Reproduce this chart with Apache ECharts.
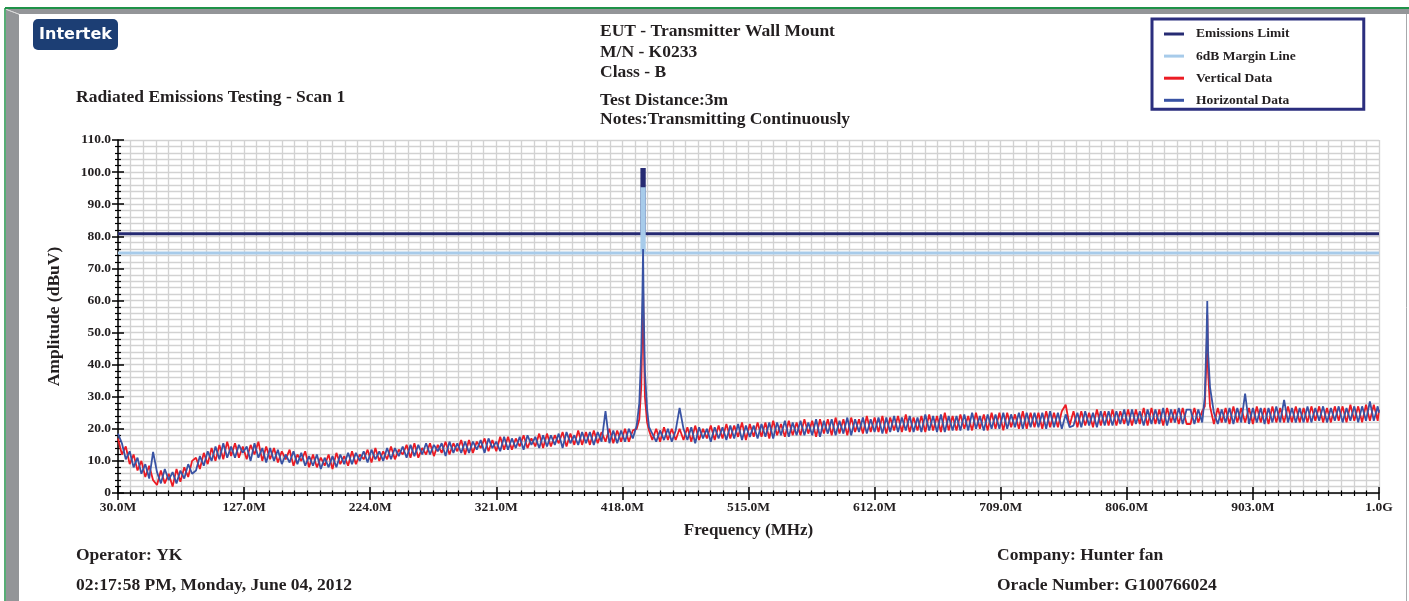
<!DOCTYPE html>
<html>
<head>
<meta charset="utf-8">
<script src="https://cdn.jsdelivr.net/npm/echarts@6/dist/echarts.min.js"></script>
<style>
  html, body { margin: 0; padding: 0; background: #ffffff; }
  #chart { width: 1409px; height: 601px; }
</style>
</head>
<body>
<div id="chart"></div>
<script>
// ---------------- DATA ----------------
const FREQ_START = 30;
const FREQ_STOP = 1000;
const FREQ_STEP_LABEL = 97;

const FREQ = [
  30,33,36,39,42,45,48,51,54,57,
  60,63,66,69,72,75,78,81,84,87,
  90,93,96,99,102,105,108,111,114,117,
  120,123,126,129,132,135,138,141,144,147,
  150,153,156,159,162,165,168,171,174,177,
  180,183,186,189,192,195,198,201,204,207,
  210,213,216,219,222,225,228,231,234,237,
  240,243,246,249,252,255,258,261,264,267,
  270,273,276,279,282,285,288,291,294,297,
  300,303,306,309,312,315,318,321,324,327,
  330,333,336,339,342,345,348,351,354,357,
  360,363,366,369,372,375,378,381,384,387,
  390,393,396,399,402,405,408,411,414,417,
  420,423,426,429,431,432.5,433.4,433.9,434.4,435.3,
  437,438.5,441,444,447,450,453,456,459,462,
  465,468,471,474,477,480,483,486,489,492,
  495,498,501,504,507,510,513,516,519,522,
  525,528,531,534,537,540,543,546,549,552,
  555,558,561,564,567,570,573,576,579,582,
  585,588,591,594,597,600,603,606,609,612,
  615,618,621,624,627,630,633,636,639,642,
  645,648,651,654,657,660,663,666,669,672,
  675,678,681,684,687,690,693,696,699,702,
  705,708,711,714,717,720,723,726,729,732,
  735,738,741,744,747,750,753,756,759,762,
  765,768,771,774,777,780,783,786,789,792,
  795,798,801,804,807,810,813,816,819,822,
  825,828,831,834,837,840,843,846,849,852,
  855,858,861,864,866,867.3,867.9,868.5,870,873,
  876,879,882,885,888,891,894,897,900,903,
  906,909,912,915,918,921,924,927,930,933,
  936,939,942,945,948,951,954,957,960,963,
  966,969,972,975,978,981,984,987,990,993,
  996,999,1000
];

const VERTICAL = [
  17,12,14.5,9,12,7,10,5,8.5,4,
  2.5,7,3,6,2,7.5,3.5,8,5,10,
  11,7.5,12.5,9,14,10,15,10.5,16,11.5,
  15.5,11,14.5,10.5,15,12,16,10,14.5,10.5,
  14,9.5,13,10.5,13.5,8.5,12,10,13,8,
  12,8,11,8.5,12,7.5,12.5,9,11.5,8.5,
  13,9,12,10.5,13.5,9.5,14,10,13,10.5,
  14.5,10.5,13.5,12,15,11,15.5,11,14,12,
  15.5,11.5,15,12.5,16,12,15.5,13,16.5,12,
  16.5,12.5,16,14,17,13,16.5,13,17.5,13.5,
  17.5,13.5,17,14.5,18,14,17,14.5,18.5,14,
  18.5,14.5,18,15.5,19,14.5,18.5,15,19.5,15,
  19,15,19.5,15.5,19,16,20,15.5,19.5,16,
  20,16,19.5,20,23,33,52,64,50,30,
  22,19.5,16.5,20,16,20.5,16.5,20,16.5,20,
  16.5,20.5,16,21,16.5,20,17,21,16.5,21,
  17,21.5,17,21,17.5,22,16.5,21.5,17.5,22,
  17.5,22,17,22.5,18,21.5,17.5,22.5,18,22,
  18,23,18.5,22.5,17.5,23,18.5,23,18,23.5,
  18.5,23,18,23.5,19,23,18.5,24,19,23.5,
  19,24,18.5,23.5,19.5,24,19,24.5,19,23.5,
  19.5,24,19,24.5,19.5,24,19,25,19.5,24,
  19.5,24.5,20,24,19.5,25,20,24.5,19.5,25,
  20,25,19.5,25,20.5,24.5,20,25.5,20,25,
  20.5,25,20,25.5,20.5,25,20.5,25.5,27.5,21,
  25.5,20.5,25.5,21,25,20.5,26,21,25.5,21,
  26,21,25.5,21.5,26,21,26,21.5,26.5,21,
  26.5,21.5,26,21,26.5,22,26,21.5,26.5,21.5,
  21.5,26.5,22,25.5,27,42,55.5,38,27,21.5,
  26.5,22,26.5,21.5,27,22,26.5,22,26.5,21.5,
  27,22,26.5,21.5,27,22,26.5,22,27,22,
  27,22,26.5,22,27,22.5,27,22,26.5,22,
  27,22.5,27,22,27.5,22.5,27,22,27.5,22.5,
  27.5,22.5,26
];

const HORIZONTAL = [
  18.5,15.5,10.5,13,8,11,6,9,4.5,12.8,
  6.5,3,7.5,4,6.5,3,7,4.5,9,6,
  7,11.5,8.5,13,10,14.5,10.5,15.5,11,14.5,
  11,15,12.5,14.5,10,15.5,11,14,9.5,14,
  10,13.5,9,12,9.5,13,9,12.5,8.5,11.5,
  8.5,12,7.5,11,8,11.5,8,12,9,12.5,
  9,12.5,10,13,9.5,13.5,10.5,13,10,14,
  10.5,14,11.5,14.5,11,15,11.5,15,12,15.5,
  12,15,13,15.5,11.5,16,12.5,15.5,12.5,16,
  12.5,16,13.5,16.5,12.5,17,14,16,13,17.5,
  13.5,17,14,17.5,13.5,18,15,17.5,14,18,
  14.5,18,15,18.5,14,19,15.5,18,15,19,
  15.5,19,15,19,16,25.5,15.5,19.5,15.5,19.5,
  16,20,17,21,28,44,62,76,57,38,
  26,20.5,18.5,16,19.5,16.5,20,16,19.5,26.5,
  20,16.5,20.5,15.5,20.5,17,20,16,20.5,17,
  20.5,16.5,21,17,21.5,16.5,21,17.5,21,17,
  21.5,17.5,22,17,22,18,22.5,17.5,22,18,
  22.5,18,22,18,23,17.5,22.5,18.5,23,18,
  22.5,18.5,23.5,18,23,19,23.5,18.5,23,19,
  23.5,18.5,23.5,19,24,19,23.5,19.5,24,19,
  23.5,19,24.5,19.5,24,19,24.5,19,24,19.5,
  24,19.5,24.5,19.5,25,20,24,19.5,24.5,20,
  24.5,20,25,20,24.5,20.5,25,20,25,20.5,
  25,20.5,25,20,25.5,20.5,25,20,24.5,20.5,
  21,25,20.5,25.5,21,25,20.5,25.5,21,25.5,
  21,25.5,21.5,26,21,26,21.5,25.5,21,26,
  21.5,26,21.5,26.5,21,26,22,26.5,21.5,26,
  26,21.5,26,22,30,48,59.8,44,33,25,
  21.5,26,22,26.5,21.5,26.5,22,31,21.5,26.5,
  22,26.5,21.5,26.5,22,27,22,29,22,26.5,
  22,26.5,22,27,22,26.5,22.5,27,22,26.5,
  22.5,27,22,26.5,22.5,27,22,27,22.5,28.5,
  22.5,27,25
];

const LIMIT_FREQ = [30, 433.0, 433.0, 434.8, 434.8, 1000];
const EMISSIONS_LIMIT = [80.8, 80.8, 100.8, 100.8, 80.8, 80.8];
const MARGIN_LINE = [74.8, 74.8, 94.8, 94.8, 74.8, 74.8];

const Y_MIN = 0, Y_MAX = 110, Y_STEP = 10;

const SERIES_NAMES = ['Emissions Limit', '6dB Margin Line', 'Vertical Data', 'Horizontal Data'];
const HEADER_LEFT = 'Radiated Emissions Testing - Scan 1';
const HEADER_CENTER = ['EUT - Transmitter Wall Mount', 'M/N - K0233', 'Class - B'];
const HEADER_CENTER2 = ['Test Distance:3m', 'Notes:Transmitting Continuously'];
const FOOTER_LEFT = ['Operator: YK', '02:17:58 PM, Monday, June 04, 2012'];
const FOOTER_RIGHT = ['Company: Hunter fan', 'Oracle Number: G100766024'];
const X_NAME = 'Frequency (MHz)';
const Y_NAME = 'Amplitude (dBuV)';
const LOGO_TEXT = 'Intertek';

// ---------------- BUILD ----------------
const toPairs = (xs, ys) => xs.map((f, i) => [f - FREQ_START, ys[i]]);
const SERIF = '"Liberation Serif", "Times New Roman", serif';
const TXT = '#231f20';
const GRID_COLOR = '#d2d2d2';

function xLabel(v) {
  const f = v + FREQ_START;
  if (Math.abs(f - 1000) < 1e-6) return '1.0G';
  return f.toFixed(1) + 'M';
}
function yLabel(v) { return v === 0 ? '0' : v.toFixed(1); }

function txt(text, x, y, size, align) {
  return {
    type: 'text', x: x, y: y, silent: true, z: 10,
    style: { text: text, fontFamily: SERIF, fontWeight: 'bold', fontSize: size, fill: TXT,
             align: align || 'left', verticalAlign: 'middle' }
  };
}

const chart = echarts.init(document.getElementById('chart'), null, { renderer: 'canvas' });

const graphics = [
  // frame
  { type: 'line', silent: true, shape: { x1: 5, y1: 8, x2: 1409, y2: 8 }, style: { stroke: '#1f9248', lineWidth: 2 } },
  { type: 'line', silent: true, shape: { x1: 5, y1: 8, x2: 5, y2: 601 }, style: { stroke: '#1f9248', lineWidth: 1.5 } },
  { type: 'polygon', silent: true, shape: { points: [[6, 9], [1409, 9], [1409, 14], [19, 14]] }, style: { fill: '#939598' } },
  { type: 'polygon', silent: true, shape: { points: [[6, 9.5], [19, 14.5], [19, 601], [6, 601]] }, style: { fill: '#939598' } },
  { type: 'line', silent: true, shape: { x1: 6.5, y1: 9.5, x2: 19, y2: 14.2 }, style: { stroke: '#d8d8d8', lineWidth: 1 } },
  { type: 'line', silent: true, shape: { x1: 1406.5, y1: 14, x2: 1406.5, y2: 601 }, style: { stroke: '#a7a9ac', lineWidth: 1 } },
  // logo
  { type: 'rect', silent: true, shape: { x: 33, y: 19, width: 85, height: 31, r: 5 }, style: { fill: '#1c3e74' } },
  { type: 'text', silent: true, x: 75.5, y: 35, z: 10,
    style: { text: LOGO_TEXT, fontFamily: '"DejaVu Sans", sans-serif', fontWeight: 'bold', fontSize: 16, fill: '#ffffff', align: 'center', verticalAlign: 'middle' } },
  // headers
  txt(HEADER_LEFT, 76, 97.5, 17.5),
  txt(HEADER_CENTER[0], 600, 31.5, 17.5),
  txt(HEADER_CENTER[1], 600, 52, 17.5),
  txt(HEADER_CENTER[2], 600, 72.5, 17.5),
  txt(HEADER_CENTER2[0], 600, 100.5, 17.5),
  txt(HEADER_CENTER2[1], 600, 119, 17.5),
  txt(FOOTER_LEFT[0], 76, 555.5, 17.5),
  txt(FOOTER_LEFT[1], 76, 585.5, 17.5),
  txt(FOOTER_RIGHT[0], 997, 555.5, 17.5),
  txt(FOOTER_RIGHT[1], 997, 585.5, 17.5)
];

const xRange = { min: 0, max: FREQ_STOP - FREQ_START, interval: FREQ_STEP_LABEL };

const option = {
  animation: false,
  backgroundColor: '#ffffff',
  graphic: graphics,
  grid: { left: 118, right: 30, top: 140, bottom: 108, containLabel: false },
  legend: {
    orient: 'vertical',
    left: 1152, top: 19,
    padding: [8, 68, 2, 12],
    itemGap: 8.1,
    itemWidth: 20, itemHeight: 3,
    icon: 'rect',
    borderColor: '#2b2e7e', borderWidth: 3,
    selectedMode: false,
    textStyle: { fontFamily: SERIF, fontWeight: 'bold', fontSize: 13.5, color: TXT, padding: [0, 0, 0, 7] },
    data: SERIES_NAMES
  },
  xAxis: [
    {
      type: 'value', position: 'bottom', ...xRange,
      name: X_NAME, nameLocation: 'middle', nameGap: 29,
      nameTextStyle: { fontFamily: SERIF, fontWeight: 'bold', fontSize: 17, color: TXT },
      axisLine: { show: true, onZero: false, lineStyle: { color: '#000', width: 1.5 } },
      axisTick: { show: true, length: 7, lineStyle: { color: '#000', width: 1.5 } },
      minorTick: { show: true, splitNumber: 10, length: 3, lineStyle: { color: '#000', width: 1.2 } },
      splitLine: { show: true, lineStyle: { color: GRID_COLOR, width: 1.3 } },
      minorSplitLine: { show: true, lineStyle: { color: GRID_COLOR, width: 1.3 } },
      axisLabel: { margin: 8, formatter: xLabel, fontFamily: SERIF, fontWeight: 'bold', fontSize: 13.5, color: TXT }
    },
    {
      type: 'value', position: 'bottom', ...xRange,
      axisLine: { show: false },
      axisTick: { show: true, inside: true, length: 6, lineStyle: { color: '#000', width: 1.5 } },
      minorTick: { show: true, splitNumber: 10, length: 2.5, lineStyle: { color: '#000', width: 1.2 } },
      splitLine: { show: false }, minorSplitLine: { show: false },
      axisLabel: { show: false }
    }
  ],
  yAxis: [
    {
      type: 'value', position: 'left', min: Y_MIN, max: Y_MAX, interval: Y_STEP,
      name: Y_NAME, nameLocation: 'middle', nameGap: 55, nameRotate: 90,
      nameTextStyle: { fontFamily: SERIF, fontWeight: 'bold', fontSize: 17.5, color: TXT },
      axisLine: { show: true, onZero: false, lineStyle: { color: '#000', width: 1.5 } },
      axisTick: { show: true, length: 6, lineStyle: { color: '#000', width: 1.5 } },
      minorTick: { show: true, splitNumber: 5, length: 3, lineStyle: { color: '#000', width: 1.2 } },
      splitLine: { show: true, lineStyle: { color: GRID_COLOR, width: 1.3 } },
      minorSplitLine: { show: true, lineStyle: { color: GRID_COLOR, width: 1.3 } },
      axisLabel: { margin: 7, formatter: yLabel, fontFamily: SERIF, fontWeight: 'bold', fontSize: 13.5, color: TXT }
    },
    {
      type: 'value', position: 'left', min: Y_MIN, max: Y_MAX, interval: Y_STEP,
      axisLine: { show: false },
      axisTick: { show: true, inside: true, length: 6, lineStyle: { color: '#000', width: 1.5 } },
      minorTick: { show: true, splitNumber: 5, length: 3, lineStyle: { color: '#000', width: 1.2 } },
      splitLine: { show: false }, minorSplitLine: { show: false },
      axisLabel: { show: false }
    }
  ],
  series: [
    {
      name: SERIES_NAMES[0], type: 'line', xAxisIndex: 0, yAxisIndex: 0,
      data: toPairs(LIMIT_FREQ, EMISSIONS_LIMIT), symbol: 'none', z: 2,
      lineStyle: { color: '#262b73', width: 3, join: 'miter' }, itemStyle: { color: '#262b73' }
    },
    {
      name: SERIES_NAMES[1], type: 'line', xAxisIndex: 0, yAxisIndex: 0,
      data: toPairs(LIMIT_FREQ, MARGIN_LINE), symbol: 'none', z: 3,
      lineStyle: { color: '#a7cbea', width: 3, join: 'miter' }, itemStyle: { color: '#a7cbea' }
    },
    {
      name: SERIES_NAMES[2], type: 'line', xAxisIndex: 0, yAxisIndex: 0,
      data: toPairs(FREQ, VERTICAL), symbol: 'none', z: 4,
      lineStyle: { color: '#ec1c24', width: 1.8 }, itemStyle: { color: '#ec1c24' }
    },
    {
      name: SERIES_NAMES[3], type: 'line', xAxisIndex: 0, yAxisIndex: 0,
      data: toPairs(FREQ, HORIZONTAL), symbol: 'none', z: 5,
      lineStyle: { color: '#3953a4', width: 1.8 }, itemStyle: { color: '#3953a4' }
    }
  ]
};

chart.setOption(option);
</script>
</body>
</html>
